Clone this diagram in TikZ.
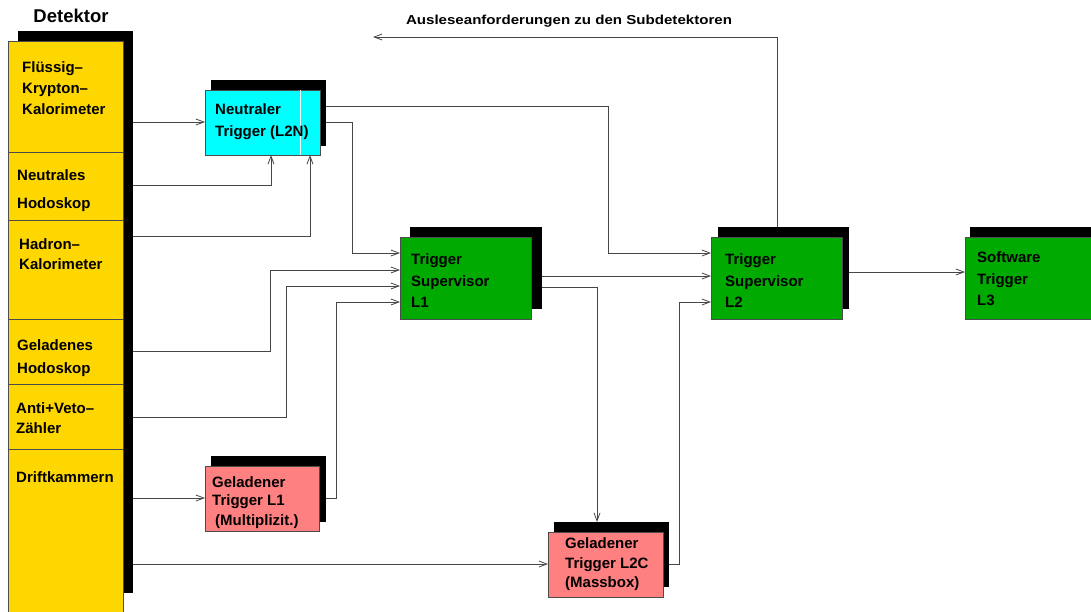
\documentclass[tikz,border=0pt]{standalone}
\usepackage{fontspec}
\setmainfont{Liberation Sans}
\usetikzlibrary{arrows.meta}
\definecolor{detyellow}{RGB}{255,215,0}
\definecolor{trgcyan}{RGB}{0,255,255}
\definecolor{trggreen}{RGB}{0,170,0}
\definecolor{trgsalmon}{RGB}{255,128,128}
\definecolor{linegrey}{RGB}{70,70,70}
\newcommand\bxf{\fontsize{15}{21.5}\selectfont\bfseries}
\tikzset{
  conn/.style={draw=linegrey, line width=0.8pt},
  arr/.style={conn, -{Straight Barb[length=8pt,width=6pt,line width=0.8pt]}},
  shd/.style={fill=black, draw=none, anchor=north west, inner sep=0pt, outer sep=0pt},
  bx/.style={draw=black!70, line width=0.7pt, anchor=north west, inner sep=0pt, outer sep=0pt},
  sec/.style={bx, fill=detyellow, minimum width=115pt},
  txt/.style={font=\bxf, align=left, inner sep=0pt, anchor=west},
}
\begin{document}
\begin{tikzpicture}[x=1pt,y=-1pt]
\clip (0,0) rectangle (1091,611);
\fill[white] (0,0) rectangle (1091,611);
% title
\node[font=\fontsize{18.5}{20}\selectfont\bfseries] (title) at (71,16) {Detektor};
% detector column
\node[shd, minimum width=115pt, minimum height=562pt] (detS) at (18,31) {};
\node[sec, minimum height=111pt] (secFK) at (8,41) {};
\node[sec, minimum height=68pt] (secNH) at (8,152) {};
\node[sec, minimum height=99pt] (secHK) at (8,220) {};
\node[sec, minimum height=65pt] (secGH) at (8,319) {};
\node[sec, minimum height=65pt] (secAV) at (8,384) {};
\node[sec, minimum height=170pt] (secDK) at (8,449) {};
\node[txt, font=\fontsize{15}{21}\selectfont\bfseries] (tFK) at (22,88) {Flüssig–\\Krypton–\\Kalorimeter};
\node[txt] (tNH) at (17,191) {Neutrales\\[6.5pt]Hodoskop};
\node[txt, font=\fontsize{15}{20}\selectfont\bfseries] (tHK) at (19,254) {Hadron–\\Kalorimeter};
\node[txt, font=\fontsize{15}{23}\selectfont\bfseries] (tGH) at (17,358) {Geladenes\\Hodoskop};
\node[txt, font=\fontsize{15}{20}\selectfont\bfseries] (tAV) at (16,418) {Anti+Veto–\\Zähler};
\node[txt] (tDK) at (16,477) {Driftkammern};
% L2N
\node[shd, minimum width=115pt, minimum height=66pt] (L2NS) at (211,80) {};
\node[bx, fill=trgcyan, minimum width=115pt, minimum height=65pt] (L2N) at (205,90) {};
\draw[white, line width=0.8pt] (L2N.north -| 300,0) -- (L2N.south -| 300,0);
\node[txt, font=\fontsize{15}{22}\selectfont\bfseries] (tL2N) at ([xshift=10pt,yshift=1pt]L2N.west) {Neutraler\\Trigger (L2N)};
% L1
\node[shd, minimum width=132pt, minimum height=82pt] (L1S) at (410,227) {};
\node[bx, fill=trggreen, minimum width=131pt, minimum height=82pt] (L1) at (400,237) {};
\node[txt] (tL1) at ([xshift=11pt,yshift=-3pt]L1.west) {Trigger\\Supervisor\\L1};
% L2
\node[shd, minimum width=131pt, minimum height=82pt] (L2S) at (718,227) {};
\node[bx, fill=trggreen, minimum width=131pt, minimum height=82pt] (L2) at (711,237) {};
\node[txt] (tL2) at ([xshift=14pt,yshift=-3pt]L2.west) {Trigger\\Supervisor\\L2};
% L3
\node[shd, minimum width=150pt, minimum height=82pt] (L3S) at (970,227) {};
\node[bx, fill=trggreen, minimum width=150pt, minimum height=82pt] (L3) at (965,237) {};
\node[txt] (tL3) at ([xshift=12pt,yshift=-1pt]L3.west) {Software\\Trigger\\L3};
% Geladener Trigger L1
\node[shd, minimum width=115pt, minimum height=66pt] (GL1S) at (211,456) {};
\node[bx, fill=trgsalmon, minimum width=114pt, minimum height=65pt] (GL1) at (205,466) {};
\node[txt, font=\fontsize{15}{17.5}\selectfont\bfseries] (tGL1) at ([xshift=7pt,yshift=-4pt]GL1.west) {Geladener\\Trigger L1\\[2.5pt]\hspace{3pt}(Multiplizit.)};
% Geladener Trigger L2C
\node[shd, minimum width=115pt, minimum height=65pt] (L2CS) at (554,522) {};
\node[bx, fill=trgsalmon, minimum width=115pt, minimum height=65pt] (L2C) at (548,532) {};
\node[txt, font=\fontsize{15}{19.5}\selectfont\bfseries] (tL2C) at ([xshift=17pt,yshift=0pt]L2C.west) {Geladener\\Trigger L2C\\(Massbox)};
% feedback label
\coordinate (fb) at (373,37);
\node[font=\fontsize{13}{15}\selectfont\bfseries] (tfb) at (569,21) {\scalebox{1.16}[1]{Ausleseanforderungen zu den Subdetektoren}};
% connectors
\draw[arr] (detS.east |- 0,122) -- (L2N.west |- 0,122);
\draw[arr] (detS.east |- 0,185) -| (L2N.south -| 271,0);
\draw[arr] (detS.east |- 0,236) -| (L2N.south -| 310,0);
\draw[arr] (L2NS.east |- 0,122) -| (352,253) -- (L1.west |- 0,253);
\draw[arr] (L2NS.east |- 0,106) -| (608,253) -- (L2.west |- 0,253);
\draw[arr] (detS.east |- 0,351) -| (270,270) -- (L1.west |- 0,270);
\draw[arr] (detS.east |- 0,417) -| (286,286) -- (L1.west |- 0,286);
\draw[arr] (GL1S.east |- 0,498) -| (336,302) -- (L1.west |- 0,302);
\draw[arr] (detS.east |- 0,498) -- (GL1.west |- 0,498);
\draw[arr] (detS.east |- 0,564) -- (L2C.west |- 0,564);
\draw[arr] (L1S.east |- 0,276) -- (L2.west |- 0,276);
\draw[arr] (L1S.east |- 0,287) -| (L2CS.north -| 597,0);
\draw[arr] (L2CS.east |- 0,564) -| (679,302) -- (L2.west |- 0,302);
\draw[arr] (L2S.east |- 0,272) -- (L3.west |- 0,272);
\draw[arr] (L2S.north -| 777,0) |- (fb);
\end{tikzpicture}
\end{document}
